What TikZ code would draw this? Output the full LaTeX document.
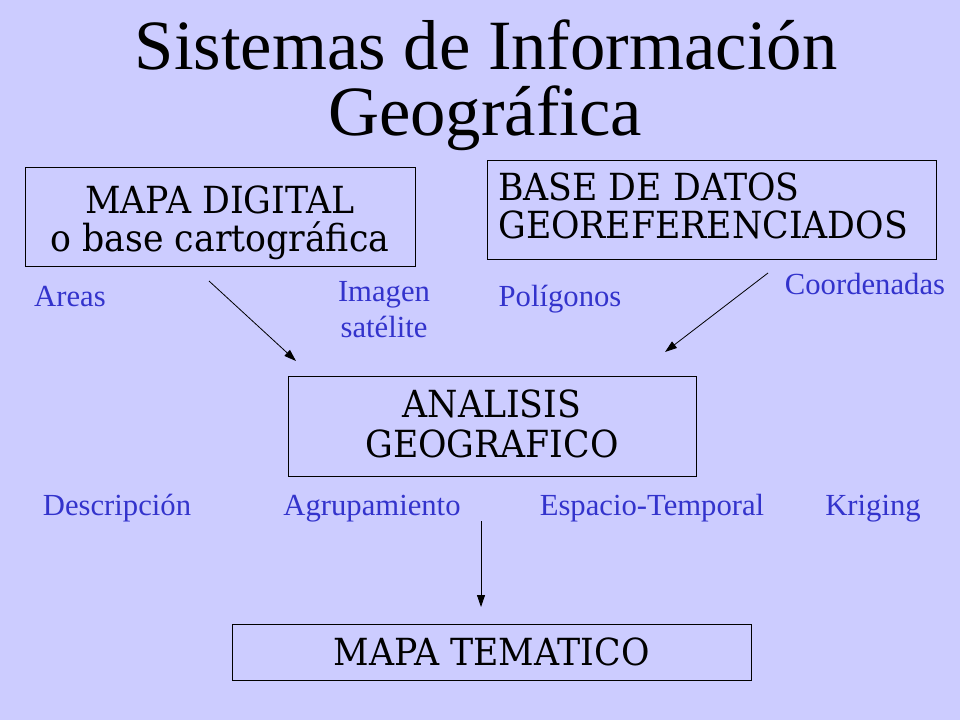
\documentclass[tikz,border=0pt]{standalone}
\usepackage{fontspec}
\setmainfont{Liberation Serif}
\newfontfamily\boxfont[FakeStretch=0.93]{DejaVu Serif}
\usetikzlibrary{arrows.meta}
\definecolor{bgc}{HTML}{CCCCFF}
\definecolor{lbl}{HTML}{3333CC}
\begin{document}
\begin{tikzpicture}[x=0.75pt,y=-0.75pt,
  box/.style={draw=black, line width=0.75pt, rectangle, inner sep=0pt},
  boxtext/.style={inner sep=0pt, anchor=north,
    font=\boxfont\fontsize{28}{28.5}\selectfont, align=center},
  lab/.style={text=lbl, font=\fontsize{23}{27}\selectfont, inner sep=0pt, anchor=base},
  ttl/.style={font=\fontsize{53}{58}\selectfont, inner sep=0pt, anchor=base},
  arr/.style={-{Triangle[length=9pt,width=6pt]}, line width=0.6pt}]
\fill[bgc] (0,0) rectangle (960,720);
\useasboundingbox (0,0) rectangle (960,720);
% title
\node[ttl] (t1) at (486,70) {Sistemas de Información};
\node[ttl] (t2) at (485,135.5) {Geográfica};
% boxes
\node[box, minimum width=292.5pt, minimum height=74.25pt] (mapa) at (220,217.5) {};
\node[boxtext] (mapatx) at (220,185.8) {MAPA DIGITAL\\o base cartográfica};
\node[box, minimum width=336.75pt, minimum height=74.25pt] (base) at (711.5,210.5) {};
\node[boxtext, anchor=north west, align=left] (basetx) at (498,172.8)
  {BASE DE DATOS\\GEOREFERENCIADOS};
\node[box, minimum width=306pt, minimum height=75pt] (anal) at (492,426) {};
\node[boxtext, font=\boxfont\fontsize{28}{30}\selectfont] (analtx) at (492,389.5)
  {ANALISIS\\GEOGRAFICO};
\node[box, minimum width=389.25pt, minimum height=42pt] (tema) at (491.5,652) {};
\node[boxtext, anchor=base] (tematx) at (491.5,665) {MAPA TEMATICO};
% labels
\node[lab] (areas) at (70,306.5) {Areas};
\node[lab, anchor=center, align=center] (imag) at (384,310) {Imagen\\satélite};
\node[lab] (poli) at (560,306.5) {Polígonos};
\node[lab] (coord) at (865,295) {Coordenadas};
\node[lab] (desc) at (117,515) {Descripción};
\node[lab] (agru) at (372,515) {Agrupamiento};
\node[lab] (espa) at (652,515) {Espacio-Temporal};
\node[lab] (krig) at (873,515) {Kriging};
% arrows
\coordinate (a1s) at (209,281);
\coordinate (a1e) at (296,361);
\coordinate (a2s) at (768,273);
\coordinate (a2e) at (665,352);
\coordinate (a3s) at (481,521);
\coordinate (a3e) at (481,607);
\draw[arr] (a1s) -- (a1e);
\draw[arr] (a2s) -- (a2e);
\draw[arr] (a3s) -- (a3e);
\end{tikzpicture}
\end{document}
